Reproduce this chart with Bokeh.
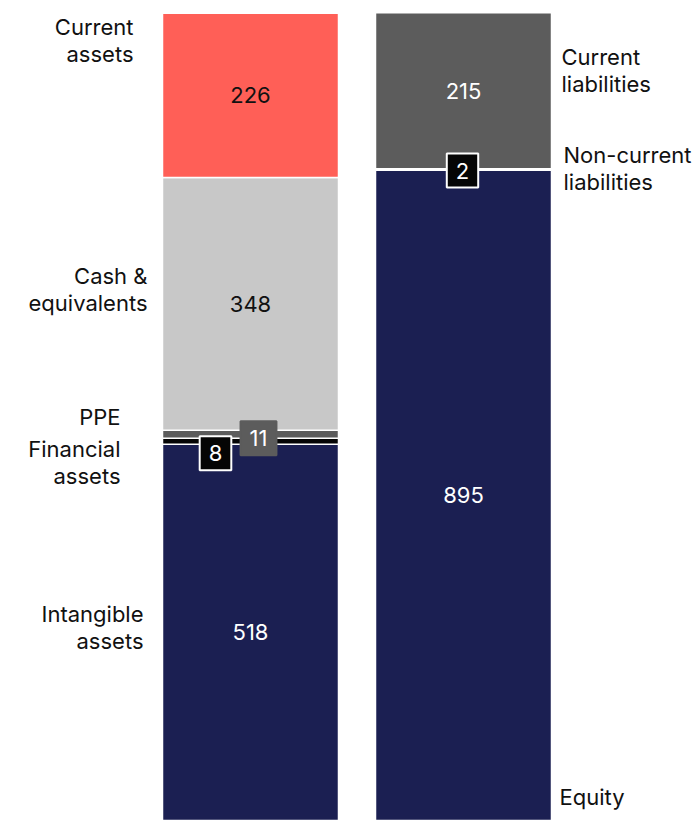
import numpy as np
from bokeh.plotting import figure
from bokeh.models import ColumnDataSource, Range1d, Label
from bokeh.embed import file_html
from bokeh.resources import INLINE

# ---- data ----
asset_names = ["Intangible assets", "Financial assets", "PPE", "Cash & equivalents", "Current assets"]
asset_values = [518, 8, 11, 348, 226]
liab_names = ["Equity", "Non-current liabilities", "Current liabilities"]
liab_values = [895, 2, 215]

# ---- style / layout ----
asset_colors = ["#1b1f52", "#050505", "#5c5c5c", "#c8c8c8", "#ff5f57"]
asset_text_colors = ["white", "white", "white", "#111111", "#111111"]
liab_colors = ["#1b1f52", "#050505", "#5c5c5c"]
liab_text_colors = ["white", "white", "white"]

W, H = 700, 820
SCALE = 0.7265          # px per unit
BOTTOM_SCREEN = 820     # screen y of value 0
FONT = "Inter"

def sx(px):
    return px

def sy(py):
    return (BOTTOM_SCREEN - py) / SCALE

x_assets = sx(250)
x_liabs = sx(463)
bar_w = 176

p = figure(width=W, height=H, output_backend="svg", toolbar_location=None,
           x_range=Range1d(0, W), y_range=Range1d(sy(H), sy(0)),
           min_border=0, min_border_left=0, min_border_right=0,
           min_border_top=0, min_border_bottom=0)
p.axis.visible = False
p.grid.visible = False
p.outline_line_color = None
p.background_fill_color = "white"
p.border_fill_color = "white"


def stack(values):
    v = np.array(values, dtype=float)
    tops = np.cumsum(v)
    bottoms = tops - v
    return bottoms, tops


for xc, names, vals, cols, tcols in [
    (x_assets, asset_names, asset_values, asset_colors, asset_text_colors),
    (x_liabs, liab_names, liab_values, liab_colors, liab_text_colors),
]:
    b, t = stack(vals)
    src = ColumnDataSource(dict(x=[xc] * len(vals), bottom=b, top=t, color=cols))
    p.vbar(x="x", bottom="bottom", top="top", width=bar_w, fill_color="color",
           line_color="white", line_width=1.5, source=src)
    big = [i for i, v in enumerate(vals) if v >= 20]
    bsrc = ColumnDataSource(dict(x=[xc] * len(big), y=[(b[i] + t[i]) / 2 for i in big],
                                 label=[str(vals[i]) for i in big],
                                 tcol=[tcols[i] for i in big]))
    p.text(x="x", y="y", text="label", source=bsrc, text_color="tcol",
           text_align="center", text_baseline="middle", text_font_size="22px",
           text_font={"value": FONT})

# small-value callouts (position offsets in px from the segment middle)
callouts = [
    ("Financial assets", x_assets, asset_names, asset_values, -35, 12, "#050505", "white"),
    ("PPE", x_assets, asset_names, asset_values, 8, 4, "#5c5c5c", "#5c5c5c"),
    ("Non-current liabilities", x_liabs, liab_names, liab_values, -1, 1, "#050505", "white"),
]
for name, xc, names, vals, dx, dy, fill, border in callouts:
    b, t = stack(vals)
    i = names.index(name)
    mid = (b[i] + t[i]) / 2
    p.add_layout(Label(x=xc + dx, y=mid - dy / SCALE, text=str(vals[i]),
                       text_align="center", text_baseline="middle",
                       text_font=FONT, text_font_size="22px", text_color="white",
                       background_fill_color=fill, border_line_color=border,
                       border_line_width=2, padding=(9, 9)))

# category labels: (text, screen anchor x, screen center y, align)
cat_labels = [
    ("Current\nassets", 133, 40, "right"),
    ("Cash &\nequivalents", 147, 289, "right"),
    ("PPE", 120, 416, "right"),
    ("Financial\nassets", 120, 462, "right"),
    ("Intangible\nassets", 143, 627, "right"),
    ("Current\nliabilities", 561, 70, "left"),
    ("Non-current\nliabilities", 563, 168, "left"),
    ("Equity", 559, 796, "left"),
]
for txt, ax, ay, al in cat_labels:
    p.add_layout(Label(x=sx(ax), y=sy(ay), text=txt, text_align=al,
                       text_baseline="middle", text_font=FONT,
                       text_font_size="22px", text_color="#111111",
                       text_line_height=1.02))

open("out.html", "w").write(file_html(p, INLINE))
